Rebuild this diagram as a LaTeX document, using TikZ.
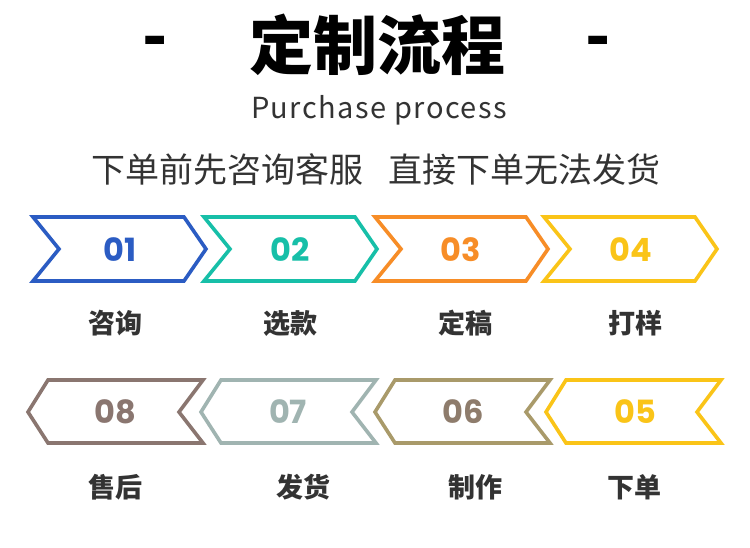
\documentclass[tikz,border=0pt]{standalone}
\usepackage{fontspec}
\setmainfont{Noto Sans CJK SC}
\newfontfamily\numfont{Poppins}
\newfontfamily\subfont[LetterSpace=5]{Noto Sans CJK SC}
\definecolor{cA}{HTML}{2B5CC3}
\definecolor{cB}{HTML}{17BFA8}
\definecolor{cC}{HTML}{F78D27}
\definecolor{cD}{HTML}{FAC418}
\definecolor{cE}{HTML}{FAC418}
\definecolor{cF}{HTML}{A99A6A}
\definecolor{cFt}{HTML}{8E7C6C}
\definecolor{cG}{HTML}{A0B4B1}
\definecolor{cH}{HTML}{8A7670}
\definecolor{txt}{HTML}{333333}
\tikzset{
  chev/.style={line width=3.6pt, line join=miter, fill=white},
  num/.style={font=\numfont\bfseries\fontsize{32}{32}\selectfont, anchor=center, inner sep=0pt},
  lab/.style={font=\bfseries\fontsize{27}{27}\selectfont, text=txt, anchor=center, inner sep=0pt},
}
\begin{document}
\begin{tikzpicture}[x=1pt,y=-1pt]
\useasboundingbox (0,0) rectangle (750,548);
\fill[white] (0,0) rectangle (750,548);
% title
\node[font=\bfseries\fontsize{64}{64}\selectfont, inner sep=0pt] (title) at (377,45) {定制流程};
\node[font=\bfseries\fontsize{66}{66}\selectfont, inner sep=0pt] (dl) at (155,48) {-};
\node[font=\bfseries\fontsize{66}{66}\selectfont, inner sep=0pt] (dr) at (598,48) {-};
\node[font=\subfont\fontsize{29}{29}\selectfont, text=txt, inner sep=0pt] (sub) at (379,110) {Purchase process};
\node[font=\fontsize{34}{34}\selectfont, text=txt, inner sep=0pt] (note) at (376,170) {下单前先咨询客服\hspace{26pt}直接下单无法发货};
% row 1
\foreach \L/\c in {33/cA,204/cB,375/cC,544/cD}{
  \draw[chev, draw=\c] (\L,217) -- (\L+151,217) -- (\L+173,249) -- (\L+151,281) -- (\L,281) -- (\L+26,249) -- cycle;
}
% row 2
\foreach \R/\c in {203/cH,376/cG,550/cF,721/cE}{
  \draw[chev, draw=\c] (\R,380) -- (\R-24,412) -- (\R,443) -- (\R-155,443) -- (\R-175,412) -- (\R-155,380) -- cycle;
}
\node[num, text=cA] (n1) at (120,250) {01};
\node[num, text=cB] (n2) at (290,250) {02};
\node[num, text=cC] (n3) at (461,250) {03};
\node[num, text=cD] (n4) at (631,250) {04};
\node[num, text=cH] (n8) at (115,412) {08};
\node[num, text=cG] (n7) at (288,412) {07};
\node[num, text=cFt] (n6) at (463,412) {06};
\node[num, text=cE] (n5) at (635,412) {05};
\node[lab] (l1) at (115,323) {咨询};
\node[lab] (l2) at (290,323) {选款};
\node[lab] (l3) at (465,323) {定稿};
\node[lab] (l4) at (635,323) {打样};
\node[lab] (l8) at (115,487) {售后};
\node[lab] (l7) at (303,487) {发货};
\node[lab] (l6) at (475,487) {制作};
\node[lab] (l5) at (634,487) {下单};
\end{tikzpicture}
\end{document}
